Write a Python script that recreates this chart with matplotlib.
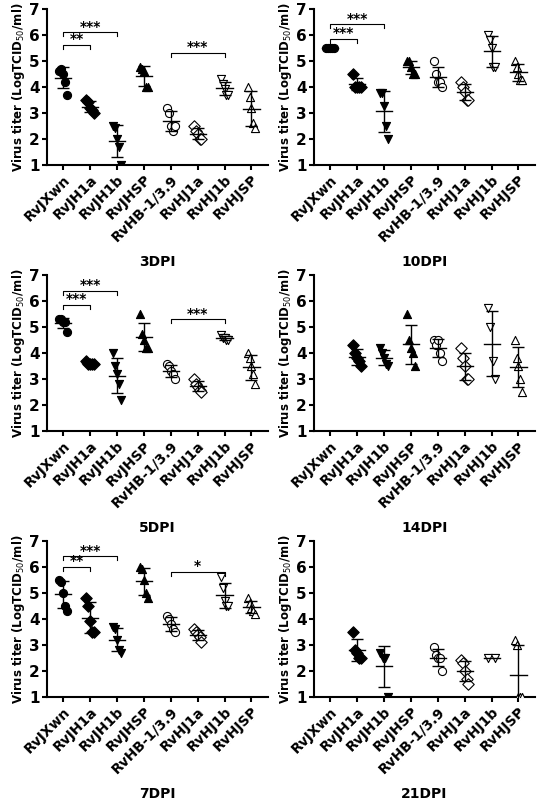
import matplotlib
matplotlib.use("Agg")
import matplotlib.pyplot as plt
import numpy as np

strains = ["RvJXwn","RvJH1a","RvJH1b","RvJHSP","RvHB-1/3.9","RvHJ1a","RvHJ1b","RvHJSP"]
markers = ["o","D","v","^","o","D","v","^"]
filled = [True,True,True,True,False,False,False,False]

d3 = [[4.6,4.7,4.5,4.2,3.7],[3.5,3.4,3.2,3.1,3.0],[2.5,2.4,2.0,1.7,1.0],[4.75,4.7,4.6,4.0,4.0],
      [3.2,3.0,2.5,2.3,2.5],[2.5,2.3,2.2,2.0,2.0],[4.3,4.1,3.9,3.7,3.7],[4.0,3.6,3.2,2.6,2.4]]
d10 = [[5.5,5.5,5.5,5.5,5.5],[4.5,4.0,4.0,4.0,4.0],[3.75,3.75,3.25,2.5,2.0],[5.0,5.0,4.75,4.5,4.5],
       [5.0,4.5,4.2,4.2,4.0],[4.2,4.0,3.8,3.5,3.5],[6.0,5.8,5.5,4.75,4.75],[5.0,4.75,4.5,4.25,4.25]]
d5 = [[5.3,5.3,5.2,5.2,4.8],[3.7,3.6,3.6,3.6,3.6],[4.0,3.5,3.2,2.8,2.2],[5.5,4.75,4.5,4.2,4.2],
      [3.6,3.5,3.3,3.2,3.0],[3.0,2.8,2.7,2.6,2.5],[4.7,4.6,4.6,4.5,4.5],[4.0,3.8,3.5,3.2,2.8]]
d14 = [[],[4.3,4.0,3.8,3.7,3.5],[4.2,4.0,3.8,3.6,3.5],[5.5,4.5,4.2,4.0,3.5],
       [4.5,4.3,4.5,4.0,3.7],[4.2,3.8,3.5,3.0,3.0],[5.75,5.0,3.7,3.0],[4.5,3.8,3.5,3.0,2.5]]
d7 = [[5.5,5.4,5.0,4.5,4.3],[4.8,4.5,3.9,3.5,3.5],[3.7,3.6,3.2,2.8,2.7],[6.0,5.9,5.5,5.0,4.8],
      [4.1,4.0,3.8,3.6,3.5],[3.6,3.5,3.4,3.3,3.1],[5.6,5.2,4.7,4.5,4.5],[4.8,4.6,4.4,4.3,4.2]]
d21 = [[],[3.5,2.8,2.7,2.5,2.5],[2.7,2.5,2.5,1.0],[],
       [2.9,2.6,2.5,2.5,2.0],[2.4,2.3,2.0,1.7,1.5],[2.5,2.5],[3.2,3.0,1.0,1.0,1.0]]

titles = ["3DPI","10DPI","5DPI","14DPI","7DPI","21DPI"]
datas = [d3,d10,d5,d14,d7,d21]
brackets = [
    [(0,1,5.6,"**"),(0,2,6.1,"***"),(4,6,5.3,"***")],
    [(0,1,5.85,"***"),(0,2,6.4,"***")],
    [(0,1,5.85,"***"),(0,2,6.4,"***"),(4,6,5.3,"***")],
    [],
    [(0,1,6.0,"**"),(0,2,6.4,"***"),(4,6,5.8,"*")],
    [],
]

fig = plt.figure(figsize=(5.54,8.0), dpi=100)
lefts = [0.085, 0.567]
bottoms = [0.794, 0.461, 0.129]
w, h = 0.398, 0.195
for k in range(6):
    r, c = k//2, k%2
    ax = fig.add_axes([lefts[c], bottoms[r], w, h])
    data = datas[k]
    for i, vals in enumerate(data):
        if not vals:
            continue
        n = len(vals)
        offs = np.linspace(-0.14, 0.14, n) if n > 1 else [0]
        ax.scatter(np.array(offs)+i, vals, marker=markers[i], s=34,
                   facecolors="black" if filled[i] else "white", edgecolors="black", linewidths=0.8, zorder=3)
        m = np.mean(vals); sd = np.std(vals, ddof=1) if n > 1 else 0
        ax.plot([i-0.3, i+0.3], [m, m], color="black", lw=1, zorder=4)
        if sd > 0:
            ax.errorbar(i, m, yerr=sd, color="black", capsize=4, lw=1, zorder=4)
    for (a, b, y, lab) in brackets[k]:
        ax.plot([a, a, b, b], [y-0.15, y, y, y-0.15], color="black", lw=0.8)
        ax.text((a+b)/2, y-0.05, lab, ha="center", va="bottom", fontsize=10, fontweight="bold")
    ax.set_ylim(1, 7)
    ax.set_xlim(-0.6, 7.6)
    ax.set_yticks(range(1, 8))
    ax.set_xticks(range(8))
    ax.set_xticklabels(strains, rotation=45, ha="right", rotation_mode="anchor", fontsize=10, fontweight="bold")
    for t in ax.get_yticklabels():
        t.set_fontweight("bold"); t.set_fontsize(11)
    ax.spines["top"].set_visible(False); ax.spines["right"].set_visible(False)
    ax.spines["left"].set_linewidth(1.5); ax.spines["bottom"].set_linewidth(1.5)
    ax.tick_params(width=1.5, pad=2)
    ax.set_ylabel("Virus titer (LogTCID$_{50}$/ml)", fontsize=8.5, fontweight="bold", labelpad=1)
    ax.text(0.5, -0.62, titles[k], transform=ax.transAxes, ha="center", va="center", fontsize=10, fontweight="bold")

fig.savefig("out.png", dpi=100)
